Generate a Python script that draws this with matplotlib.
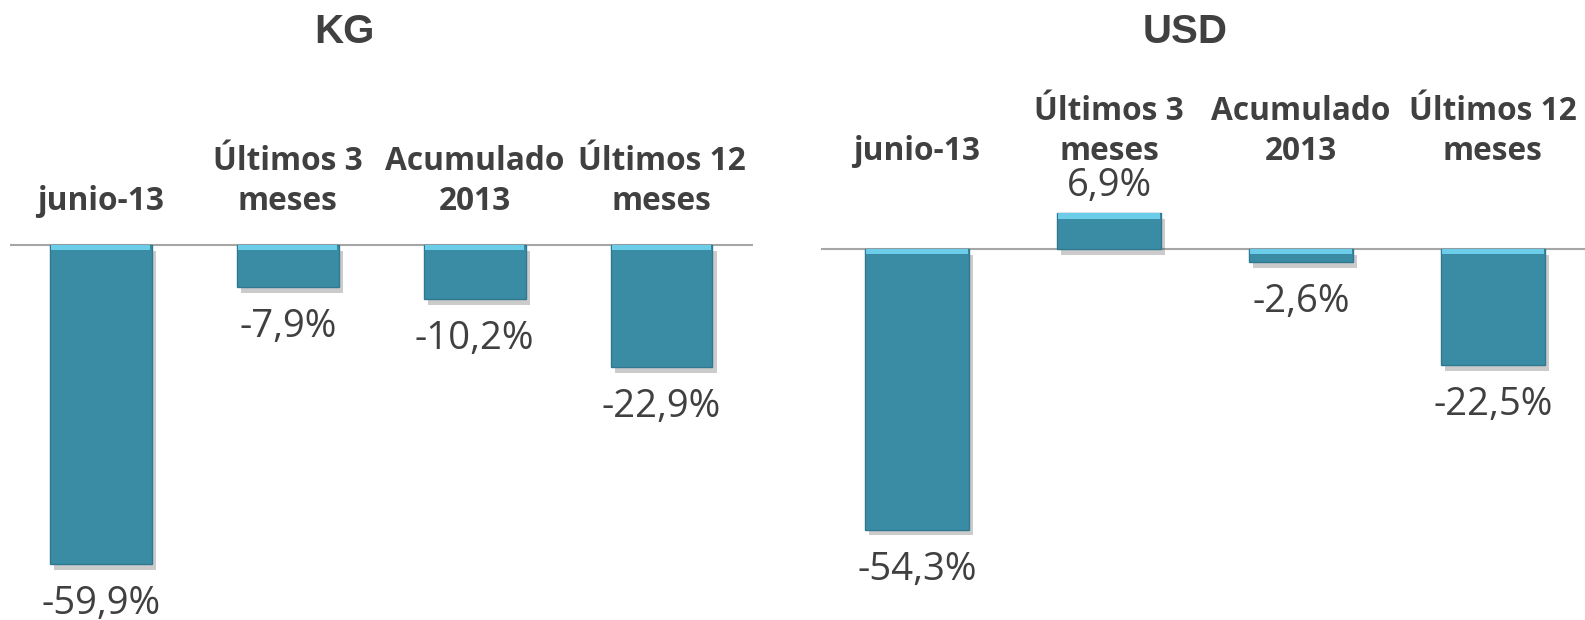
import matplotlib
matplotlib.use("Agg")
import matplotlib.pyplot as plt
import matplotlib.patheffects as pe
import matplotlib.transforms as mtransforms

categories = ["junio-13", "Últimos 3\nmeses", "Acumulado\n2013", "Últimos 12\nmeses"]
kg_values = [-59.9, -7.9, -10.2, -22.9]
usd_values = [-54.3, 6.9, -2.6, -22.5]
kg_labels = ["-59,9%", "-7,9%", "-10,2%", "-22,9%"]
usd_labels = ["-54,3%", "6,9%", "-2,6%", "-22,5%"]
titles = ["KG", "USD"]

W, H = 1585, 620
fig = plt.figure(figsize=(W / 100, H / 100), dpi=100)

BAR = "#3A8CA4"
HIGH = "#6CCDE8"
EDGE = "#2F7890"
TXT = "#404040"

panels = [
    dict(vals=kg_values, labs=kg_labels, title=titles[0],
         rect=[10 / W, 0, 743 / W, 1], xlim=(-0.487, 3.49), ylim=(-70.4, 46.0),
         cat_y=0.648, title_x=344),
    dict(vals=usd_values, labs=usd_labels, title=titles[1],
         rect=[821 / W, 0, 764 / W, 1], xlim=(-0.5, 3.48), ylim=(-71.8, 48.2),
         cat_y=0.729, title_x=1185),
]

for p in panels:
    ax = fig.add_axes(p["rect"])
    ax.set_xlim(*p["xlim"])
    ax.set_ylim(*p["ylim"])
    ax.axis("off")
    xs = list(range(len(categories)))
    ax.axhline(0, color="#A6A6A6", lw=1.5, zorder=1)
    bars = ax.bar(xs, p["vals"], width=0.545, color=BAR, edgecolor=EDGE,
                  linewidth=1.0, zorder=3)
    for b in bars:
        b.set_path_effects([pe.SimplePatchShadow(offset=(3, -4), alpha=0.3,
                                                 shadow_rgbFace="#555555"),
                            pe.Normal()])
    # highlight band at top of each bar
    for x, v in zip(xs, p["vals"]):
        top = max(v, 0)
        ax.bar(x, -1.0, bottom=top, width=0.53, color=HIGH, linewidth=0,
               zorder=4)
    # value labels
    for x, v, lab in zip(xs, p["vals"], p["labs"]):
        if v >= 0:
            off = 27 * 0.72
        else:
            off = -40 * 0.72
        ax.annotate(lab, xy=(x, v), xytext=(0, off), textcoords="offset points",
                    ha="center", va="center", fontsize=27.5, color=TXT,
                    family="Open Sans")
    # category labels
    trans = mtransforms.blended_transform_factory(ax.transData, ax.transAxes)
    for x, c in zip(xs, categories):
        ax.text(x, p["cat_y"], c, transform=trans, ha="center", va="bottom",
                fontsize=22.8, fontweight="bold", color=TXT, family="Open Sans",
                linespacing=1.3)
    fig.text(p["title_x"] / W, 1 - 32 / H, p["title"], ha="center", va="center",
             fontsize=29, fontweight="bold", color="#404040",
             family="Liberation Sans")

fig.savefig("out.png", dpi=100)
